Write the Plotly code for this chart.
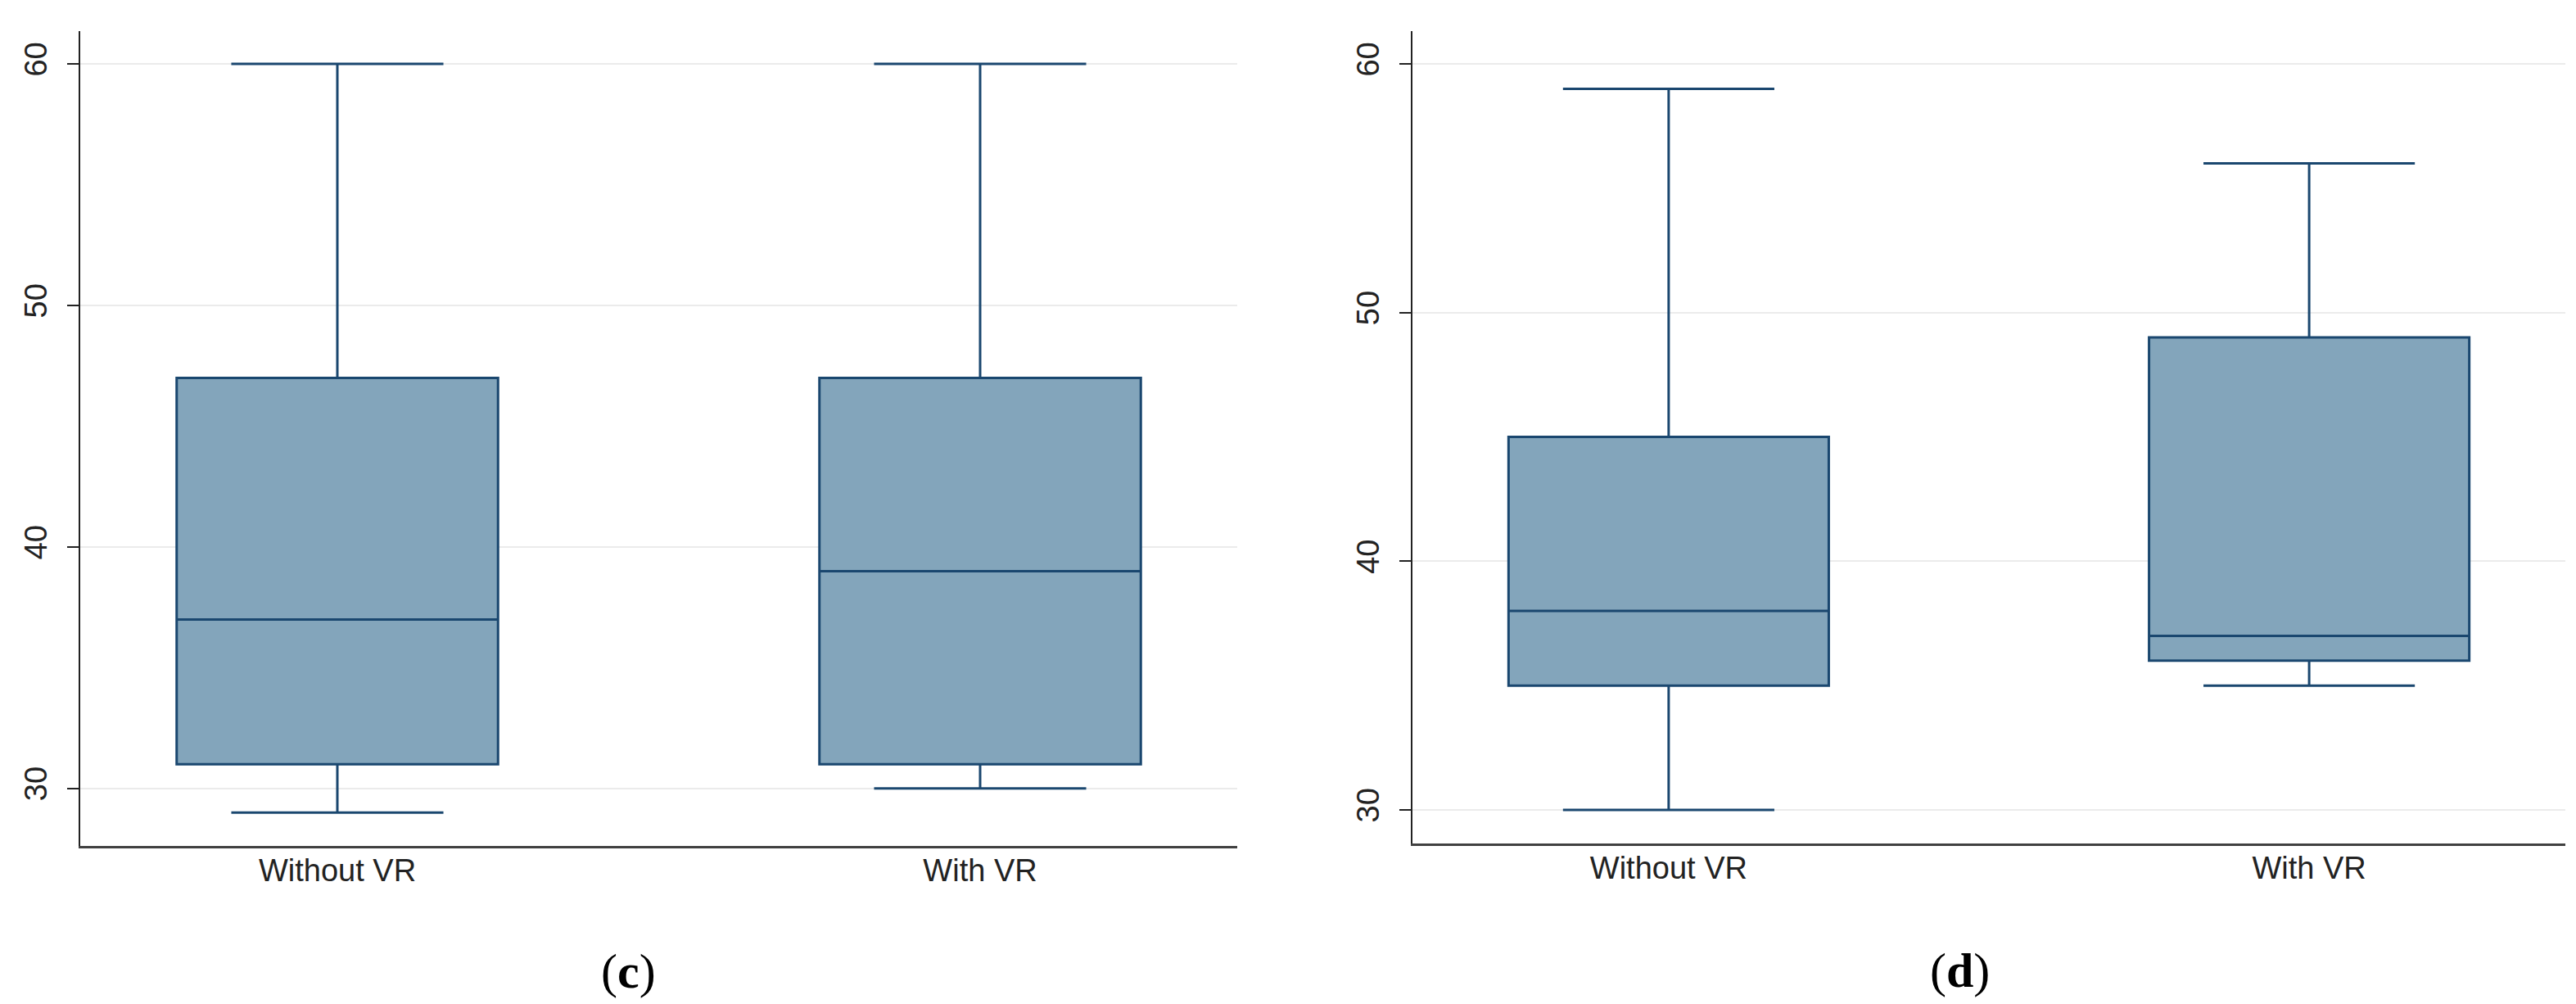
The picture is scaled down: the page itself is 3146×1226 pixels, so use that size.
import plotly.graph_objects as go

W, H = 3146, 1226

categories = ["Without VR", "With VR"]

# Panel (c)
c_lower = [29, 30]
c_q1 = [31, 31]
c_median = [37, 39]
c_q3 = [47, 47]
c_upper = [60, 60]

# Panel (d)
d_lower = [30, 35]
d_q1 = [35, 36]
d_median = [38, 37]
d_q3 = [45, 49]
d_upper = [59, 56]

y_ticks = [30, 40, 50, 60]
panel_labels = ["(<b>c</b>)", "(<b>d</b>)"]

LINE = "#1a476f"
FILL = "#83a5bb"
FONT = "Liberation Sans, Arial, sans-serif"

fig = go.Figure()

def add_box(q1, med, q3, lo, hi, xa, ya):
    fig.add_trace(go.Box(
        x=categories, q1=q1, median=med, q3=q3,
        lowerfence=lo, upperfence=hi,
        xaxis=xa, yaxis=ya,
        fillcolor=FILL, line=dict(color=LINE, width=3),
        whiskerwidth=0.66, width=0.5,
        boxpoints=False, showlegend=False, hoverinfo="skip",
    ))

add_box(c_q1, c_median, c_q3, c_lower, c_upper, "x", "y")
add_box(d_q1, d_median, d_q3, d_lower, d_upper, "x2", "y2")

def px(x):
    return x / W

def py(y):
    return 1 - y / H

xcommon = dict(
    type="category", range=[-0.4, 1.4], showline=True, linecolor="#404040",
    linewidth=3, ticks="", showgrid=False, zeroline=False,
    tickfont=dict(family=FONT, size=38, color="#222222"),
    ticklabelstandoff=-6,
)
ycommon = dict(
    tickvals=y_ticks, showline=True, linecolor="#222222", linewidth=2,
    ticks="outside", ticklen=14, tickwidth=2, tickcolor="#222222",
    tickangle=-90, showgrid=True, gridcolor="#ebebeb", gridwidth=2,
    zeroline=False, tickfont=dict(family=FONT, size=38, color="#222222"),
    ticklabelstandoff=10,
)

label_font = dict(family="Liberation Serif, Times New Roman, serif", size=60, color="black")

fig.update_layout(
    width=W, height=H,
    margin=dict(l=0, r=0, t=0, b=0),
    paper_bgcolor="white", plot_bgcolor="white",
    showlegend=False,
    xaxis=dict(domain=[px(90), px(1503)], anchor="y", **xcommon),
    yaxis=dict(domain=[py(1025), py(30)], anchor="x", range=[27.62, 61.36], **ycommon),
    xaxis2=dict(domain=[px(1717), px(3125)], anchor="y2", **xcommon),
    yaxis2=dict(domain=[py(1022), py(30)], anchor="x2", range=[28.65, 61.32], **ycommon),
    annotations=[
        dict(text=panel_labels[0], x=px(759), y=py(1178), xref="paper", yref="paper",
             showarrow=False, xanchor="center", yanchor="middle", font=label_font),
        dict(text=panel_labels[1], x=px(2385), y=py(1177), xref="paper", yref="paper",
             showarrow=False, xanchor="center", yanchor="middle", font=label_font),
    ],
)

fig.write_html("out.html")
